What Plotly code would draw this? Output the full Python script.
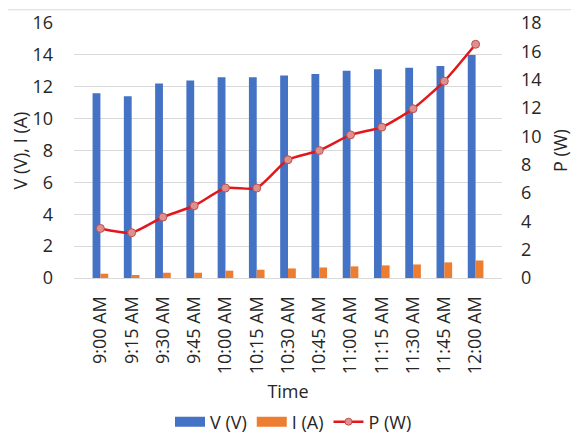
import plotly.graph_objects as go

times = ["9:00 AM", "9:15 AM", "9:30 AM", "9:45 AM", "10:00 AM", "10:15 AM", "10:30 AM",
         "10:45 AM", "11:00 AM", "11:15 AM", "11:30 AM", "11:45 AM", "12:00 AM"]
voltage = [11.6, 11.4, 12.2, 12.4, 12.6, 12.6, 12.7, 12.8, 13.0, 13.1, 13.2, 13.3, 14.0]
current = [0.27, 0.19, 0.33, 0.33, 0.46, 0.52, 0.60, 0.66, 0.73, 0.79, 0.85, 0.98, 1.10]
power = [3.5, 3.2, 4.3, 5.1, 6.35, 6.35, 8.35, 9.0, 10.1, 10.65, 11.95, 13.9, 16.5]

FONT = "Open Sans"
TXT = "#262626"
BLUE = "#4472C4"
ORANGE = "#ED7D31"

fig = go.Figure()
fig.add_trace(go.Bar(x=times, y=voltage, name="V (V)", marker_color=BLUE,
                     marker_line_width=0, showlegend=False))
fig.add_trace(go.Bar(x=times, y=current, name="I (A)", marker_color=ORANGE,
                     marker_line_width=0, showlegend=False))
fig.add_trace(go.Scatter(x=times, y=power, name="P (W)", yaxis="y2", mode="lines+markers",
                         line=dict(color="#E3171B", width=2.5, shape="spline", smoothing=0.6),
                         marker=dict(size=8, color="#DE8F8F",
                                     line=dict(color="#C0504D", width=1)),
                         showlegend=False))
# legend entries
fig.add_trace(go.Scatter(x=[None], y=[None], name="V (V)", mode="lines",
                         line=dict(color=BLUE, width=12), legendrank=1))
fig.add_trace(go.Scatter(x=[None], y=[None], name="I (A)", mode="lines",
                         line=dict(color=ORANGE, width=12), legendrank=2))
fig.add_trace(go.Scatter(x=[None], y=[None], name="P (W)", mode="lines+markers",
                         line=dict(color="#E3171B", width=2.5),
                         marker=dict(size=7, color="#DE8F8F",
                                     line=dict(color="#C0504D", width=1)),
                         legendrank=3))

fig.update_layout(
    width=571, height=429,
    margin=dict(l=66, r=77, t=15, b=159, autoexpand=False),
    paper_bgcolor="white", plot_bgcolor="white",
    font=dict(family=FONT, size=18, color=TXT),
    barmode="group", bargap=0.5, bargroupgap=0,
    showlegend=True,
    legend=dict(orientation="h", x=0.5, xanchor="center", xref="container",
                y=0.035, yanchor="middle", yref="container",
                font=dict(size=18, color=TXT), traceorder="normal",
                itemwidth=30, tracegroupgap=0),
    xaxis=dict(tickangle=-90, showgrid=False, showline=True, linecolor="#D9D9D9",
               linewidth=1, ticks="", tickfont=dict(size=18, color=TXT), automargin=False,
               ticklabelstandoff=10,
               title=dict(text="Time", font=dict(size=18, color=TXT), standoff=26)),
    yaxis=dict(range=[0, 16], dtick=2, showgrid=True, gridcolor="#D9D9D9", gridwidth=1,
               zeroline=False, showline=False, ticks="", ticklabelstandoff=20,
               tickfont=dict(size=18, color=TXT), automargin=False,
               title=dict(text="V (V), I (A)", font=dict(size=18, color=TXT), standoff=19)),
    yaxis2=dict(range=[0, 18], dtick=2, overlaying="y", side="right", showgrid=False,
                zeroline=False, showline=False, ticks="", ticklabelstandoff=18,
                tickfont=dict(size=18, color=TXT), automargin=False,
                title=dict(text="P (W)", font=dict(size=18, color=TXT), standoff=13)),
    shapes=[dict(type="line", xref="paper", yref="paper", x0=-0.2, x1=1.2,
                 y0=1.052, y1=1.052, line=dict(color="#D9D9D9", width=1))],
)

fig.write_html("out.html")
